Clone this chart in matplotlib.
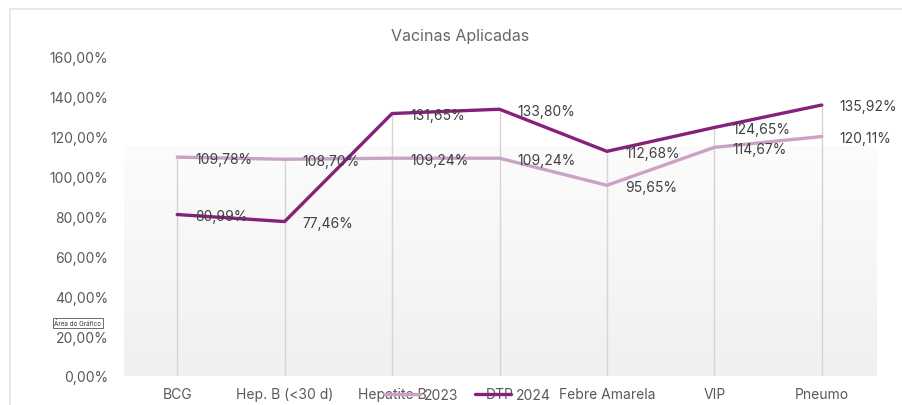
import matplotlib
matplotlib.use("Agg")
import matplotlib.pyplot as plt
import numpy as np
from matplotlib.patches import Rectangle
from matplotlib.colors import LinearSegmentedColormap

categories = ["BCG", "Hep. B (<30 d)", "Hepatite B", "DTP", "Febre Amarela", "VIP", "Pneumo"]
v2023 = [109.78, 108.70, 109.24, 109.24, 95.65, 114.67, 120.11]
v2024 = [80.99, 77.46, 131.65, 133.80, 112.68, 124.65, 135.92]
yticks = [0, 20, 40, 60, 80, 100, 120, 140, 160]
series_names = ["2023", "2024"]

def fmt(v):
    return f"{v:.2f}".replace(".", ",") + "%"

W, H = 902, 406
fig = plt.figure(figsize=(W / 100, H / 100), dpi=100)
plt.rcParams['font.family'] = ['Inter', 'DejaVu Sans']

# outer card border
fig.patches.append(Rectangle((10 / W, -0.1), 1.2, (H - 10) / H + 0.1, transform=fig.transFigure,
                             fill=False, edgecolor="#e3e3e3", linewidth=1.2))

left, right, top, bottom = 123.5, 875.5, 58, 377
ax = fig.add_axes([left / W, 1 - bottom / H, (right - left) / W, (bottom - top) / H])

# gradient background (plot area fill: white at top, light grey at bottom)
grad = np.linspace(0, 1, 256).reshape(-1, 1)
cmap = LinearSegmentedColormap.from_list("g", ["#fcfcfc", "#f0f0f0"])
ax.imshow(grad, extent=[-0.5, 6.5, 0, 115], aspect="auto", cmap=cmap, origin="upper", zorder=0)
ax.set_ylim(0, 160)
ax.set_xlim(-0.5, 6.5)

x = np.arange(len(categories))
# drop lines
tops = [max(a, b) for a, b in zip(v2023, v2024)]
ax.vlines(x, 0, tops, colors="#d4d4d4", linewidth=1.0, zorder=1)

c23 = "#c9a3c6"
c24 = "#86207a"
l1, = ax.plot(x, v2023, color=c23, linewidth=2.4, zorder=3, label=series_names[0], solid_capstyle="round")
l2, = ax.plot(x, v2024, color=c24, linewidth=2.4, zorder=4, label=series_names[1], solid_capstyle="round")

for xi, v in zip(x, v2023):
    ax.annotate(fmt(v), (xi, v), xytext=(13, -1), textcoords="offset points", ha="left", va="center",
                fontsize=10, color="#404040", zorder=5)
for xi, v in zip(x, v2024):
    ax.annotate(fmt(v), (xi, v), xytext=(13, -1), textcoords="offset points", ha="left", va="center",
                fontsize=10, color="#404040", zorder=5)

for s in ax.spines.values():
    s.set_visible(False)
ax.set_yticks(yticks)
ax.set_yticklabels([fmt(t) for t in yticks])
ax.set_xticks(x)
ax.set_xticklabels(categories)
ax.tick_params(axis="both", length=0, colors="#595959", labelsize=10)
ax.tick_params(axis="y", pad=11)
ax.tick_params(axis="x", pad=8)

fig.text(460 / W, 1 - 36 / H, "Vacinas Aplicadas", ha="center", va="center", fontsize=11.5, color="#666666")

fig.legend(handles=[l1, l2], loc="center", bbox_to_anchor=(467 / W, 1 - 396 / H), ncol=2, frameon=False,
           fontsize=10, labelcolor="#595959", handlelength=2.6, columnspacing=1.2, handletextpad=0.3)

fig.text(78 / W, 1 - 324 / H, "Área do Gráfico", ha="center", va="center", fontsize=4.5, color="#333333",
         bbox=dict(boxstyle="square,pad=0.3", facecolor="white", edgecolor="#555555", linewidth=0.6))

fig.savefig("out.png", dpi=100)
